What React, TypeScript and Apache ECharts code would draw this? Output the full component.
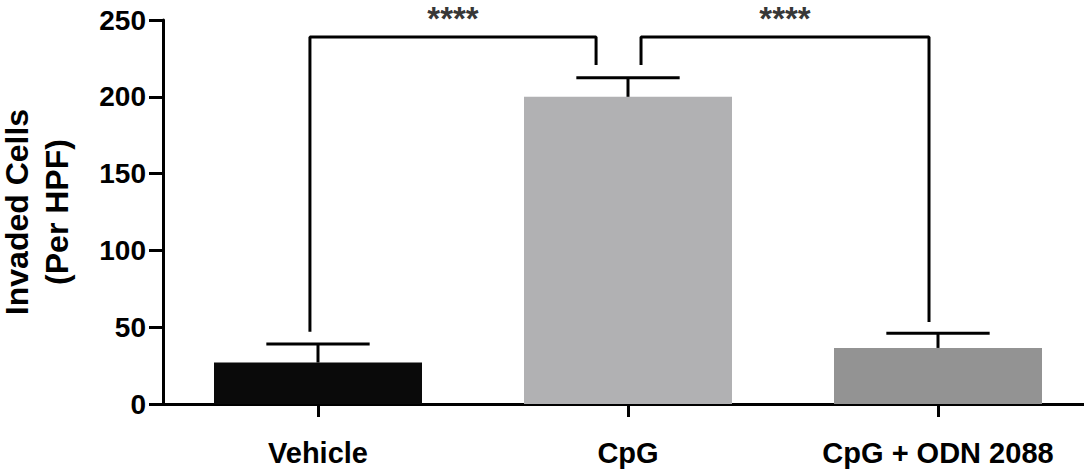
import React, { useEffect, useRef } from "react";
import * as echarts from "echarts";

const categories = ["Vehicle", "CpG", "CpG + ODN 2088"];
const means = [27, 200, 36.5];
const upperErrors = [12.1, 12.4, 9.6];
const barColors = ["#0a0a0a", "#b1b1b3", "#939393"];
const yMin = 0;
const yMax = 250;
const yInterval = 50;

// significance brackets, x in category units (0 = Vehicle centre)
const bracket1 = [
  [-0.026, 47],
  [-0.026, 239],
  [0.897, 239],
  [0.897, 220.7],
];
const bracket2 = [
  [1.042, 220.7],
  [1.042, 239],
  [1.971, 239],
  [1.971, 53.4],
];
const starMarks = [
  [0.4355, 239, "****"],
  [1.5065, 239, "****"],
];

const FONT = "'Liberation Sans', Arial, Helvetica, sans-serif";

export default function App() {
  const ref = useRef<HTMLDivElement>(null);

  useEffect(() => {
    if (!ref.current) return;
    const chart = echarts.init(ref.current, null, { renderer: "svg" });
    const errData = means.map((m, i) => [i, m, m + upperErrors[i]]);

    chart.setOption({
      animation: false,
      backgroundColor: "#ffffff",
      grid: {
        left: 163,
        top: 20,
        width: 930,
        height: 384,
        containLabel: false,
        outerBoundsMode: "none",
      },
      xAxis: [
        {
          type: "category",
          data: categories,
          boundaryGap: true,
          axisLine: { show: true, onZero: false, lineStyle: { color: "#000", width: 3 } },
          axisTick: { show: true, alignWithLabel: true, length: 13, lineStyle: { color: "#000", width: 3 } },
          axisLabel: {
            interval: 0,
            color: "#000",
            fontSize: 29,
            fontWeight: "bold",
            fontFamily: FONT,
            margin: 34,
          },
          splitLine: { show: false },
        },
        {
          type: "value",
          min: -0.5,
          max: 2.5,
          show: false,
        },
      ],
      yAxis: {
        type: "value",
        min: yMin,
        max: yMax,
        interval: yInterval,
        name: "Invaded Cells\n(Per HPF)",
        nameLocation: "middle",
        nameRotate: 90,
        nameGap: 86,
        nameTextStyle: {
          color: "#000",
          fontSize: 32,
          fontWeight: "bold",
          fontFamily: FONT,
          lineHeight: 40,
        },
        axisLine: { show: true, onZero: false, lineStyle: { color: "#000", width: 3 } },
        axisTick: { show: true, length: 14, lineStyle: { color: "#000", width: 3 } },
        axisLabel: {
          color: "#000",
          fontSize: 28,
          fontWeight: "bold",
          fontFamily: FONT,
          margin: 17,
        },
        splitLine: { show: false },
      },
      series: [
        {
          type: "bar",
          xAxisIndex: 0,
          barWidth: 208,
          data: means.map((v, i) => ({ value: v, itemStyle: { color: barColors[i] } })),
          z: 2,
        },
        {
          type: "custom",
          xAxisIndex: 0,
          data: errData,
          z: 3,
          renderItem: (params: any, api: any) => {
            const x = api.value(0);
            const base = api.coord([x, api.value(1)]);
            const top = api.coord([x, api.value(2)]);
            const half = api.size([1, 0])[0] / 6;
            const style = { stroke: "#000", lineWidth: 3 };
            return {
              type: "group",
              children: [
                { type: "line", shape: { x1: base[0], y1: base[1], x2: top[0], y2: top[1] }, style },
                { type: "line", shape: { x1: top[0] - half, y1: top[1], x2: top[0] + half, y2: top[1] }, style },
              ],
            };
          },
        },
        {
          type: "line",
          xAxisIndex: 1,
          data: bracket1,
          symbol: "none",
          lineStyle: { color: "#000", width: 3 },
          z: 4,
        },
        {
          type: "line",
          xAxisIndex: 1,
          data: bracket2,
          symbol: "none",
          lineStyle: { color: "#000", width: 3 },
          z: 4,
        },
        {
          type: "scatter",
          xAxisIndex: 1,
          data: starMarks,
          symbolSize: 0,
          z: 5,
          label: {
            show: true,
            position: "top",
            distance: 2,
            formatter: (p: any) => p.value[2],
            color: "#000",
            fontSize: 33,
            fontWeight: "bold",
            fontFamily: FONT,
          },
        },
      ],
    });

    return () => chart.dispose();
  }, []);

  return (
    <div
      ref={ref}
      style={{ position: "fixed", left: 0, top: 0, width: 1084, height: 476, background: "#fff" }}
    />
  );
}
